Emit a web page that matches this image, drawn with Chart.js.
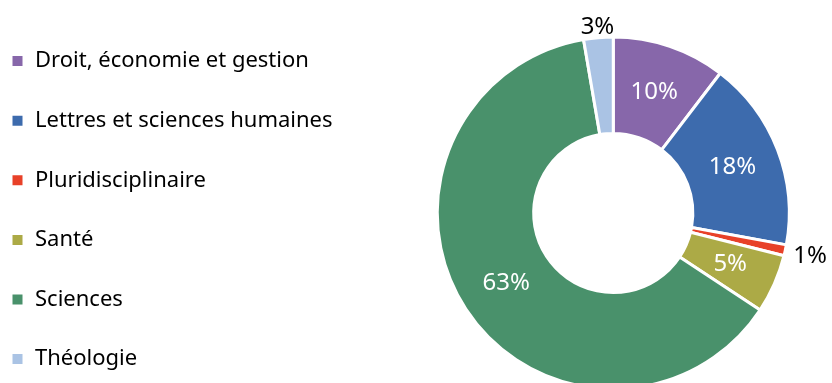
<!DOCTYPE html>
<html>
<head>
<meta charset="utf-8">
<script src="https://cdn.jsdelivr.net/npm/chart.js@4/dist/chart.umd.min.js"></script>
<style>
  html, body { margin: 0; padding: 0; background: #fff; overflow: hidden; }
  #wrap { width: 884px; height: 420px; }
</style>
</head>
<body>
<div id="wrap"><canvas id="donut" width="884" height="420"></canvas></div>
<script>
// ====== DONNÉES ======
const categories = [
    "Droit, économie et gestion",
    "Lettres et sciences humaines",
    "Pluridisciplinaire",
    "Santé",
    "Sciences",
    "Théologie"
];
const shares = [10.4, 17.5, 1.0, 5.4, 63.0, 2.7];
const colors = ["#8767AA", "#3D6BAD", "#E84128", "#ACAA46", "#49916B", "#AAC3E4"];

const FONT = "'Noto Sans', sans-serif";

// ====== ÉTIQUETTES DE POURCENTAGE ======
const pctLabels = {
    id: "pctLabels",
    afterDatasetsDraw(chart) {
        const ctx = chart.ctx;
        const meta = chart.getDatasetMeta(0);
        const data = chart.data.datasets[0].data;
        const total = data.reduce((a, b) => a + b, 0);
        ctx.save();
        ctx.font = "24px " + FONT;
        ctx.textAlign = "center";
        ctx.textBaseline = "middle";
        meta.data.forEach((arc, i) => {
            const pct = data[i] / total * 100;
            const txt = Math.round(pct) + "%";
            const p = arc.getProps(["x", "y", "startAngle", "endAngle", "innerRadius", "outerRadius"], true);
            const mid = (p.startAngle + p.endAngle) / 2;
            if (pct >= 4) {
                const r = (p.innerRadius + p.outerRadius) / 2;
                ctx.fillStyle = "#ffffff";
                ctx.fillText(txt, p.x + Math.cos(mid) * r, p.y + Math.sin(mid) * r);
            } else {
                const w = ctx.measureText(txt).width;
                const r = p.outerRadius + 9 + Math.abs(Math.cos(mid)) * w / 2;
                ctx.fillStyle = "#000000";
                ctx.fillText(txt, p.x + Math.cos(mid) * r, p.y + Math.sin(mid) * r);
            }
        });
        ctx.restore();
    }
};

document.addEventListener("DOMContentLoaded", () => {
    new Chart(document.getElementById("donut"), {
        type: "doughnut",
        data: {
            labels: categories,
            datasets: [{
                data: shares,
                backgroundColor: colors,
                borderColor: "#ffffff",
                borderWidth: 3,
                radius: 176,
                cutout: 90
            }]
        },
        options: {
            responsive: false,
            animation: false,
            layout: { padding: { left: -26.6, top: 12.5, bottom: 6.5, right: 0 } },
            plugins: {
                tooltip: { enabled: false },
                legend: {
                    position: "left",
                    align: "start",
                    labels: {
                        boxWidth: 13,
                        boxHeight: 13,
                        padding: 37.6,
                        color: "#000000",
                        font: { family: FONT, size: 22 }
                    }
                }
            }
        },
        plugins: [pctLabels]
    });
});
</script>
</body>
</html>
